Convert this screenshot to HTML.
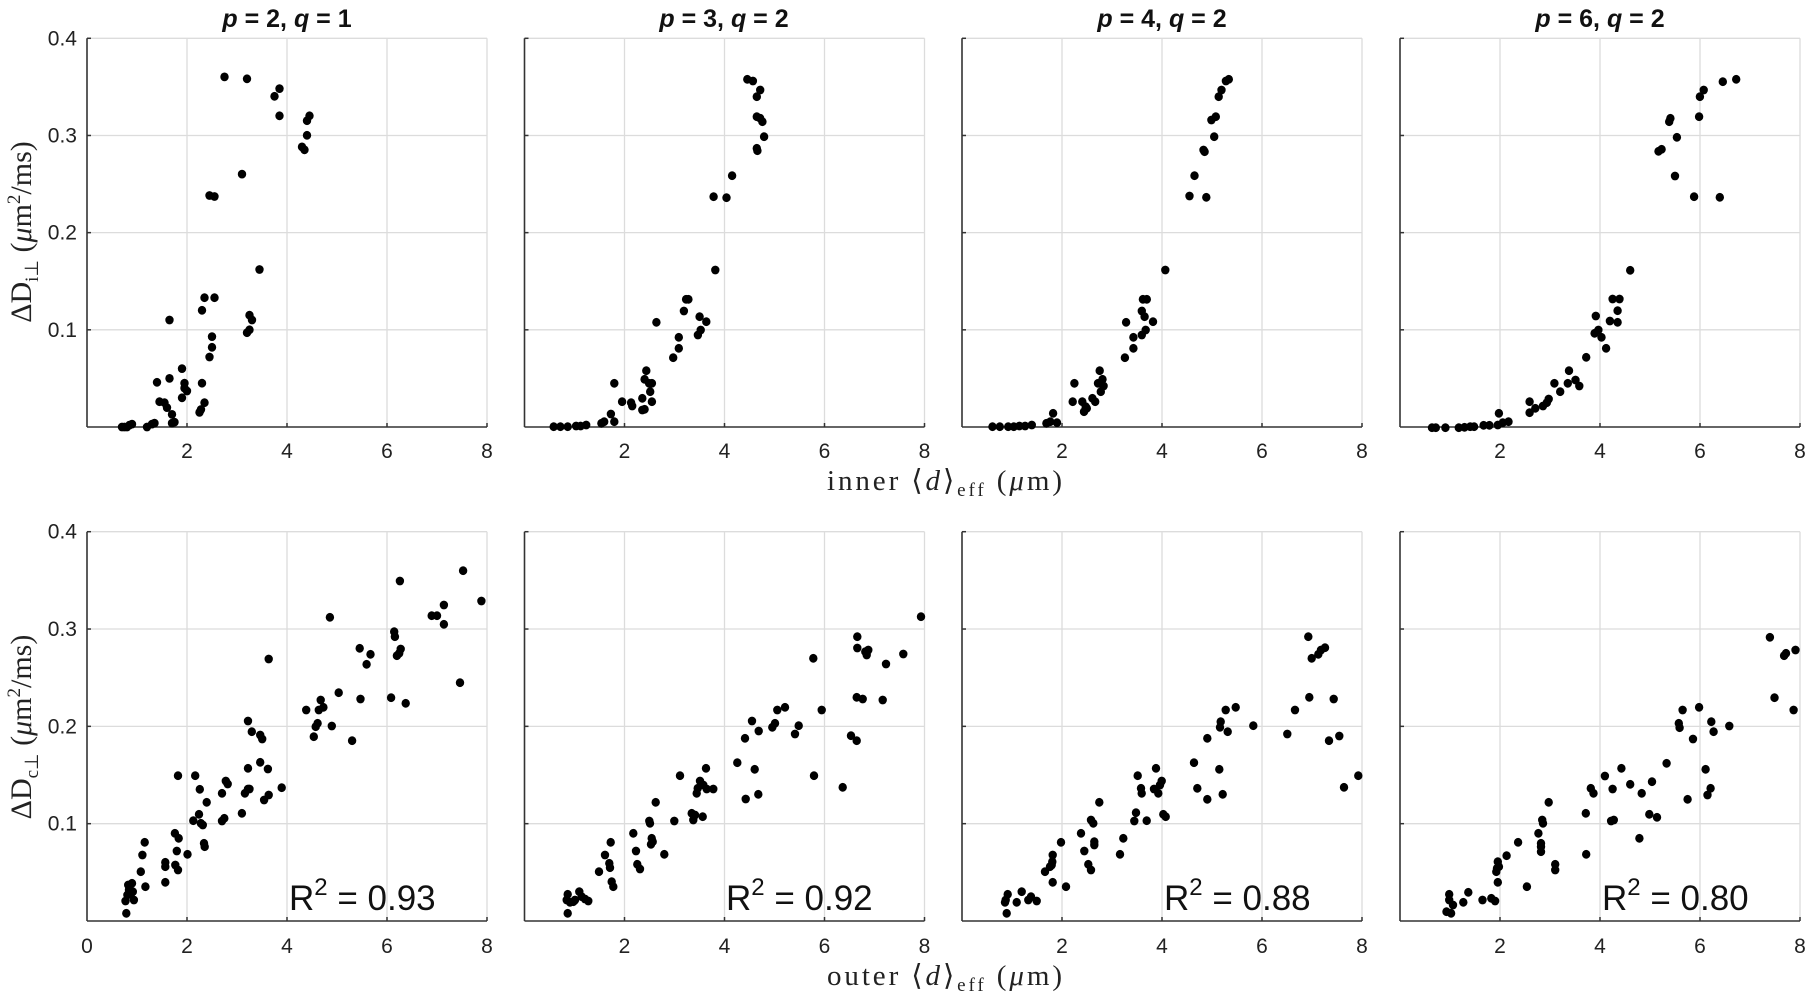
<!DOCTYPE html>
<html><head><meta charset="utf-8">
<style>
html,body{margin:0;padding:0;background:#fff;}
svg{display:block;}
.tk{font-family:"Liberation Sans",sans-serif;font-size:21px;fill:#222;}
.ttl{font-family:"Liberation Sans",sans-serif;font-size:25px;font-weight:bold;fill:#111;}
.ser{font-family:"Liberation Serif",serif;fill:#222;}
.r2{font-family:"Liberation Sans",sans-serif;font-size:35px;fill:#111;}
</style></head>
<body>
<svg id="s" width="1810" height="995" viewBox="0 0 1810 995" xmlns="http://www.w3.org/2000/svg">
<rect width="1810" height="995" fill="#fff"/>
<g id="axes"></g>
<g id="dots" fill="#000"></g>
<text class="ttl" x="287" y="27" text-anchor="middle"><tspan font-style="italic">p</tspan> = 2, <tspan font-style="italic">q</tspan> = 1</text>
<text class="ttl" x="724" y="27" text-anchor="middle"><tspan font-style="italic">p</tspan> = 3, <tspan font-style="italic">q</tspan> = 2</text>
<text class="ttl" x="1162" y="27" text-anchor="middle"><tspan font-style="italic">p</tspan> = 4, <tspan font-style="italic">q</tspan> = 2</text>
<text class="ttl" x="1600" y="27" text-anchor="middle"><tspan font-style="italic">p</tspan> = 6, <tspan font-style="italic">q</tspan> = 2</text>
<text class="ser" font-size="30" transform="translate(31,232) rotate(-90)" text-anchor="middle">ΔD<tspan font-size="19" dy="7">i⊥</tspan><tspan dy="-7">  (</tspan><tspan font-style="italic">μ</tspan>m<tspan font-size="19" dy="-11">2</tspan><tspan dy="11">/ms)</tspan></text>
<text class="ser" font-size="30" transform="translate(31,727) rotate(-90)" text-anchor="middle">ΔD<tspan font-size="19" dy="7">c⊥</tspan><tspan dy="-7">  (</tspan><tspan font-style="italic">μ</tspan>m<tspan font-size="19" dy="-11">2</tspan><tspan dy="11">/ms)</tspan></text>
<text class="ser" font-size="29" x="827" y="490" textLength="235" lengthAdjust="spacing">inner ⟨<tspan font-style="italic">d</tspan>⟩<tspan font-size="19" dy="6">eff</tspan><tspan dy="-6">  (</tspan><tspan font-style="italic">μ</tspan>m)</text>
<text class="ser" font-size="29" x="827" y="985" textLength="235" lengthAdjust="spacing">outer ⟨<tspan font-style="italic">d</tspan>⟩<tspan font-size="19" dy="6">eff</tspan><tspan dy="-6">  (</tspan><tspan font-style="italic">μ</tspan>m)</text>
<text class="r2" x="289" y="910">R<tspan font-size="24" dy="-15">2</tspan><tspan dy="15"> = 0.93</tspan></text>
<text class="r2" x="726" y="910">R<tspan font-size="24" dy="-15">2</tspan><tspan dy="15"> = 0.92</tspan></text>
<text class="r2" x="1164" y="910">R<tspan font-size="24" dy="-15">2</tspan><tspan dy="15"> = 0.88</tspan></text>
<text class="r2" x="1602" y="910">R<tspan font-size="24" dy="-15">2</tspan><tspan dy="15"> = 0.80</tspan></text>
</svg>
<script>
(function(){
var NS="http://www.w3.org/2000/svg";
var axes=document.getElementById('axes'),dots=document.getElementById('dots');
var L=[87,524.5,962,1400],W=400;
var rows=[{t:38.3,b:427,lab:458},{t:531.7,b:921,lab:953}];
function el(n,a,p){var e=document.createElementNS(NS,n);for(var k in a)e.setAttribute(k,a[k]);(p||axes).appendChild(e);return e;}
rows.forEach(function(r,ri){
  var h=r.b-r.t;
  L.forEach(function(l,pi){
    for(var i=1;i<=4;i++){var x=l+i*W/4;el('line',{x1:x,y1:r.t,x2:x,y2:r.b,stroke:'#dcdcdc','stroke-width':1.3});}
    for(var j=1;j<=4;j++){var y=r.b-j*h/4;el('line',{x1:l,y1:y,x2:l+W,y2:y,stroke:'#dcdcdc','stroke-width':1.3});
      el('line',{x1:l,y1:y,x2:l+4,y2:y,stroke:'#333','stroke-width':1.5});}
    for(var i=1;i<=4;i++){var x=l+i*W/4;el('line',{x1:x,y1:r.b,x2:x,y2:r.b-4,stroke:'#333','stroke-width':1.5});}
    el('line',{x1:l,y1:r.t,x2:l,y2:r.b,stroke:'#333','stroke-width':1.6});
    el('line',{x1:l,y1:r.b,x2:l+W,y2:r.b,stroke:'#333','stroke-width':1.6});
    for(var i=(ri==1&&pi==0)?0:1;i<=4;i++){var t=el('text',{x:l+i*W/4,y:r.lab,'text-anchor':'middle','class':'tk'});t.textContent=String(i*2);}
    if(pi==0){for(var j=1;j<=4;j++){var t=el('text',{x:77,y:r.b-j*h/4+7,'text-anchor':'end','class':'tk'});t.textContent='0.'+j;}}
  });
});
function dot(x,y){el('ellipse',{cx:x.toFixed(1),cy:y.toFixed(1),rx:4.2,ry:4.4},dots);}
var p1=[[0.7,0],[0.75,0],[0.8,0],[0.85,0.002],[0.9,0.003],[1.2,0],[1.3,0.003],[1.35,0.004],[1.4,0.046],[1.45,0.026],[1.55,0.025],[1.6,0.02],[1.65,0.05],[1.65,0.11],[1.7,0.013],[1.75,0.005],[1.7,0.004],[1.9,0.03],[1.9,0.06],[1.95,0.045],[1.95,0.04],[2.0,0.037],[2.25,0.015],[2.28,0.018],[2.3,0.045],[2.3,0.12],[2.35,0.025],[2.35,0.133],[2.45,0.072],[2.5,0.082],[2.5,0.093],[2.45,0.238],[2.55,0.237],[2.55,0.133],[2.75,0.36],[3.1,0.26],[3.2,0.358],[3.2,0.097],[3.25,0.1],[3.25,0.115],[3.3,0.11],[3.45,0.162],[3.75,0.34],[3.85,0.348],[3.85,0.32],[4.3,0.288],[4.35,0.285],[4.4,0.3],[4.4,0.315],[4.45,0.32]];
p1.forEach(function(d){dot(87+d[0]*50,427-d[1]*972.5);});
var z7=[[60,1190],[72,1190],[85,1190],[100,1188],[108,1188],[118,1185],[145,1180],[150,1175],[162,1152],[168,1175],[168,1060],[182,1115],[198,1118],[200,1128],[218,1105],[218,1140],[222,1138],[222,1048],[225,1022],[230,1060],[232,1085],[235,1060],[235,1115],[243,877],[273,983],[283,955],[283,922],[292,843],[296,808],[300,808],[317,915],[320,860],[322,900],[332,875],[348,720],[345,500],[368,503],[378,437],[405,148],[415,153],[422,200],[428,180],[422,260],[423,362],[422,355],[428,265],[432,275],[435,320],
[842,1190],[855,1190],[870,1190],[880,1190],[890,1188],[900,1188],[912,1185],[938,1180],[945,1175],[950,1150],[957,1178],[985,1115],[988,1060],[1002,1115],[1005,1145],[1008,1130],[1010,1135],[1020,1105],[1025,1115],[1030,1060],[1033,1022],[1035,1085],[1038,1048],[1040,1068],[1078,983],[1080,877],[1093,955],[1093,922],[1108,915],[1108,843],[1110,808],[1113,860],[1117,808],[1115,900],[1128,875],[1150,720],[1193,498],[1202,437],[1218,360],[1220,365],[1223,502],[1232,270],[1237,320],[1240,260],[1245,200],[1250,180],[1258,153],[1263,148]];
z7.forEach(function(d){dot(520+d[0]/1.782,30+d[1]/3);});
var z3=[[580,1283],[590,1283],[615,1283],[650,1283],[665,1282],[680,1280],[690,1280],[715,1276],[730,1276],[752,1275],[755,1240],[765,1268],[780,1265],[835,1238],[835,1205],[850,1225],[870,1218],[880,1208],[885,1197],[900,1150],[915,1175],[935,1150],[938,1112],[955,1140],[965,1158],[983,1072],[1005,1000],[1008,948],[1015,990],[1023,1012],[1035,1045],[1045,963],[1052,897],[1065,967],[1065,932],[1070,897],[1098,811],[1172,454],[1180,448],[1200,365],[1203,355],[1215,528],[1220,412],[1265,590],[1278,350],[1280,290],[1290,270],[1332,592],[1340,245],[1375,238]];
z3.forEach(function(d){dot(1210+d[0]/2.613,d[1]/3);});
var z2=[[330,1255],[328,1218],[333,1200],[337,1185],[343,1195],[345,1165],[350,1215],[347,1190],[335,1170],[368,1130],[372,1080],[378,1042],[380,1175],[432,1162],[432,1115],[432,1102],[458,1110],[462,1068],[465,1125],[467,1030],[457,1015],[465,842],[490,1078],[505,977],[510,842],[520,958],[522,883],[525,985],[530,990],[533,1045],[535,1055],[540,922],[580,978],[586,970],[580,895],[590,858],[595,867],[632,955],[640,895],[648,882],[648,820],[652,882],[648,678],[658,710],[680,720],[685,732],[680,802],[690,915],[700,822],[702,900],[702,492],[736,878],[800,645],[820,725],[825,695],[830,685],[833,645],[838,615],[845,637],[862,367],[867,693],[885,593],[920,737],[940,460],[942,612],[958,508],[968,478],[1022,608],[1030,410],[1032,425],[1037,482],[1043,475],[1047,462],[1045,258],[1060,625],[1128,362],[1142,362],[1160,330],[1160,388],[1202,563],[1210,227],[1258,318]];
z2.forEach(function(d){dot(d[0]/2.613,495+d[1]/3);});
var z5=[[143,1255],[140,1215],[143,1198],[150,1222],[160,1220],[165,1215],[178,1190],[185,1205],[195,1212],[205,1218],[237,1130],[255,1080],[268,1105],[270,1118],[272,1042],[275,1160],[280,1175],[340,1015],[348,1068],[352,1108],[360,1122],[388,978],[390,985],[393,1048],[395,1030],[398,1040],[407,922],[433,1078],[463,978],[480,842],[515,955],[520,975],[525,960],[530,895],[533,880],[540,858],[548,965],[550,870],[558,820],[560,882],[580,882],[652,803],[675,730],[677,912],[696,678],[704,823],[715,898],[716,708],[757,697],[765,685],[772,645],[795,637],[825,717],[836,692],[880,490],[882,842],[905,645],[968,877],[993,722],[1010,737],[1010,607],[1012,425],[1012,459],[1028,612],[1036,470],[1040,480],[1045,465],[1088,615],[1098,507],[1150,477],[1203,365]];
z5.forEach(function(d){dot(520+d[0]/3,495+d[1]/3);});
var z6=[[155,1255],[152,1215],[158,1198],[150,1222],[185,1222],[200,1190],[220,1215],[228,1205],[245,1218],[270,1130],[285,1115],[292,1100],[293,1080],[293,1162],[290,1110],[318,1042],[333,1175],[378,1015],[388,1068],[400,1108],[408,1125],[408,975],[415,985],[418,1050],[418,1040],[433,922],[495,1078],[505,1030],[538,978],[543,953],[548,842],[558,880],[560,895],[575,977],[597,882],[603,820],[610,895],[615,870],[620,858],[625,958],[632,965],[717,803],[727,880],[757,913],[757,730],[793,823],[795,697],[797,680],[803,898],[812,645],[818,710],[842,637],[895,692],[997,717],[1020,645],[1060,425],[1063,607],[1070,490],[1090,478],[1098,465],[1110,458],[1122,737],[1136,612],[1153,723],[1167,877],[1210,842]];
z6.forEach(function(d){dot(955+d[0]/3,495+d[1]/3);});
var z4=[[618,1250],[625,1215],[630,1255],[625,1198],[635,1230],[662,1222],[675,1192],[712,1215],[735,1210],[745,1218],[752,1100],[750,1120],[748,1130],[755,1115],[752,1162],[775,1082],[805,1042],[828,1175],[858,1015],[865,1070],[865,1045],[868,975],[870,985],[865,1055],[885,922],[902,1108],[902,1125],[982,955],[983,1078],[995,880],[1002,895],[1032,843],[1048,978],[1055,975],[1052,882],[1075,820],[1098,868],[1122,1030],[1128,895],[1148,958],[1155,860],[1168,967],[1193,805],[1225,685],[1227,698],[1235,645],[1248,913],[1262,732],[1278,637],[1295,823],[1300,900],[1308,880],[1310,680],[1316,710],[1357,693],[1463,427],[1475,608],[1500,482],[1505,475],[1525,645],[1530,465]];
z4.forEach(function(d){dot(1210+d[0]/2.613,495+d[1]/3);});
})();
</script>
</body></html>
